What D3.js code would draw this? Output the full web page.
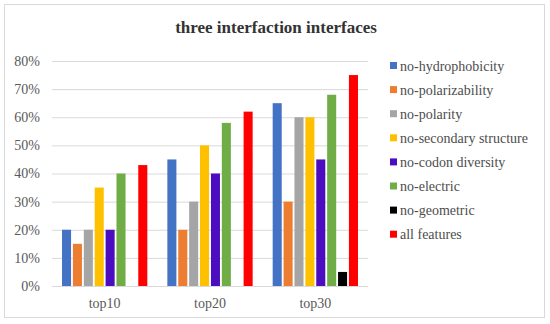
<!DOCTYPE html>
<html lang="en">
<head>
  <meta charset="UTF-8">
  <title>three interfaction interfaces</title>
  <script src="https://cdnjs.cloudflare.com/ajax/libs/d3/7.8.5/d3.min.js"></script>
  <style>
    body { margin: 0; background: #fff; }
    svg text { font-family: "Liberation Serif", "DejaVu Serif", serif; }
  </style>
</head>
<body>
  <svg id="chart" width="550" height="324"></svg>
  <script>
    const groups = ["top10", "top20", "top30"];
    const seriesNames = ["no-hydrophobicity", "no-polarizability", "no-polarity",
      "no-secondary structure", "no-codon diversity", "no-electric", "no-geometric", "all features"];
    const seriesColors = ["#4472C4", "#ED7D31", "#A5A5A5", "#FFC000", "#4B0DBF", "#70AD47", "#000000", "#FF0000"];
    // one array per group, values in the series order above
    const top10 = [0.20, 0.15, 0.20, 0.35, 0.20, 0.40, 0.00, 0.43];
    const top20 = [0.45, 0.20, 0.30, 0.50, 0.40, 0.58, 0.00, 0.62];
    const top30 = [0.65, 0.30, 0.60, 0.60, 0.45, 0.68, 0.05, 0.75];
    const yTicks = [0, 0.1, 0.2, 0.3, 0.4, 0.5, 0.6, 0.7, 0.8];

    const values = [top10, top20, top30];
    const svg = d3.select("#chart");

    // outer frame
    svg.append("rect")
      .attr("x", 4.5).attr("y", 4.5)
      .attr("width", 540).attr("height", 313)
      .attr("fill", "#fff").attr("stroke", "#d9d9d9");

    svg.append("text")
      .attr("x", 276).attr("y", 33)
      .attr("text-anchor", "middle")
      .attr("font-size", 17).attr("font-weight", "bold")
      .attr("fill", "#333")
      .text("three interfaction interfaces");

    const plotL = 52, plotR = 368, plotT = 61, plotB = 286;

    const y = d3.scaleLinear().domain([0, 0.8]).range([plotB, plotT]);
    const x0 = d3.scaleBand().domain(groups).range([plotL, plotR]);
    const x1 = d3.scaleBand().domain(seriesNames)
      .range([0, x0.bandwidth()])
      .paddingInner(0.17).paddingOuter(0.92);

    // gridlines + y labels
    const yAxis = d3.axisLeft(y).tickValues(yTicks)
      .tickFormat(d3.format(".0%"))
      .tickSize(-(plotR - plotL)).tickPadding(12);
    const gy = svg.append("g").attr("transform", `translate(${plotL},0)`).call(yAxis);
    gy.select(".domain").remove();
    gy.selectAll(".tick line").attr("stroke", "#d9d9d9");
    gy.selectAll(".tick text")
      .attr("fill", "#595959").attr("font-size", 14);

    // bars
    const g = svg.append("g");
    groups.forEach((grp, gi) => {
      g.selectAll(null)
        .data(values[gi])
        .enter()
        .append("rect")
        .attr("x", (d, i) => x0(grp) + x1(seriesNames[i]))
        .attr("y", d => y(d))
        .attr("width", x1.bandwidth())
        .attr("height", d => y(0) - y(d))
        .attr("fill", (d, i) => seriesColors[i]);
    });

    // baseline
    svg.append("line")
      .attr("x1", plotL).attr("x2", plotR)
      .attr("y1", plotB + 0.5).attr("y2", plotB + 0.5)
      .attr("stroke", "#d9d9d9");

    // x labels
    const xAxis = d3.axisBottom(x0).tickSize(0).tickPadding(12);
    const gx = svg.append("g").attr("transform", `translate(0,${plotB})`).call(xAxis);
    gx.select(".domain").remove();
    gx.selectAll(".tick text")
      .attr("fill", "#595959").attr("font-size", 14);

    // legend
    const legend = svg.append("g").attr("transform", "translate(390,66)");
    const item = legend.selectAll("g")
      .data(seriesNames)
      .enter()
      .append("g")
      .attr("transform", (d, i) => `translate(0,${i * 24.1})`);
    item.append("rect")
      .attr("x", 0).attr("y", -4)
      .attr("width", 7).attr("height", 7)
      .attr("fill", (d, i) => seriesColors[i]);
    item.append("text")
      .attr("x", 10).attr("y", 4.5)
      .attr("font-size", 14).attr("fill", "#4d4d4d")
      .text(d => d);
  </script>
</body>
</html>
